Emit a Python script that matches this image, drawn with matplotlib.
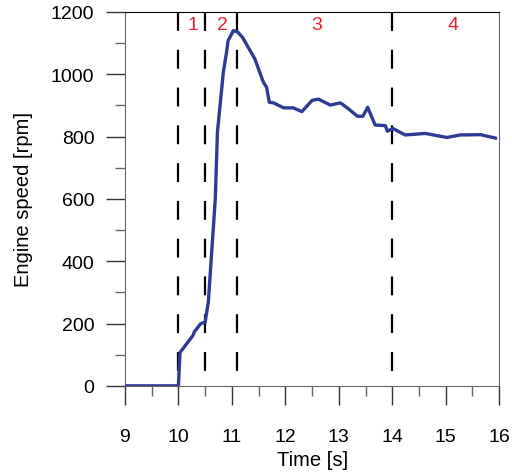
import matplotlib.pyplot as plt
from matplotlib.ticker import MultipleLocator

plt.rcParams['font.family'] = ['Liberation Sans', 'DejaVu Sans']

# engine speed trace
t = [9.0, 10.0, 10.03, 10.27, 10.3, 10.42, 10.5, 10.56, 10.69, 10.73, 10.84, 10.9,
     10.93, 11.03, 11.11, 11.2, 11.43, 11.59, 11.65, 11.7, 11.78, 11.97, 12.15,
     12.31, 12.5, 12.62, 12.84, 13.03, 13.18, 13.35, 13.45, 13.54, 13.68, 13.87,
     13.91, 14.01, 14.24, 14.62, 15.02, 15.27, 15.65, 15.93]
rpm = [0, 0, 107, 161, 174, 200, 204, 269, 600, 814, 1006, 1070,
       1108, 1140, 1135, 1118, 1049, 974, 958, 910, 908, 892, 892,
       880, 916, 920, 901, 908, 889, 865, 865, 894, 837, 835,
       817, 826, 805, 810, 797, 805, 806, 795]

phase_bounds = [10.0, 10.5, 11.1, 14.0]
phase_names = ['1', '2', '3', '4']
phase_x = [10.27, 10.82, 12.58, 15.14]

fig = plt.figure(figsize=(5.12, 4.77), dpi=100)
ax = fig.add_axes([0.244, 0.189, 0.731, 0.784])

# dashed phase boundaries, drawn top-down so the dashes start at the top
for xb in phase_bounds:
    ax.plot([xb, xb], [1200, 0], color='black', lw=1.6, ls=(0, (8.5, 8.5)), zorder=1)
for name, xp in zip(phase_names, phase_x):
    ax.text(xp, 1160, name, color='#e8202a', fontsize=14, ha='center', va='center')

ax.plot(t, rpm, color='#2e3a95', lw=2.4, zorder=3)

ax.set_xlim(9, 16)
ax.set_ylim(0, 1200)
ax.xaxis.set_major_locator(MultipleLocator(1))
ax.xaxis.set_minor_locator(MultipleLocator(0.5))
ax.yaxis.set_major_locator(MultipleLocator(200))
ax.yaxis.set_minor_locator(MultipleLocator(100))

ax.tick_params(axis='both', which='major', direction='out', length=14, width=1,
               labelsize=14, color='#333333')
ax.tick_params(axis='both', which='minor', direction='out', length=7, width=1,
               color='#666666')
ax.tick_params(axis='x', which='major', pad=16)
ax.tick_params(axis='y', which='major', pad=8)

for side in ['left', 'bottom', 'right']:
    ax.spines[side].set_color('#666666')
ax.spines['top'].set_color('black')

ax.set_xlabel('Time [s]', fontsize=14.5, labelpad=4)
ax.set_ylabel('Engine speed [rpm]', fontsize=14.5, labelpad=13)

fig.savefig('out.png', dpi=100)
